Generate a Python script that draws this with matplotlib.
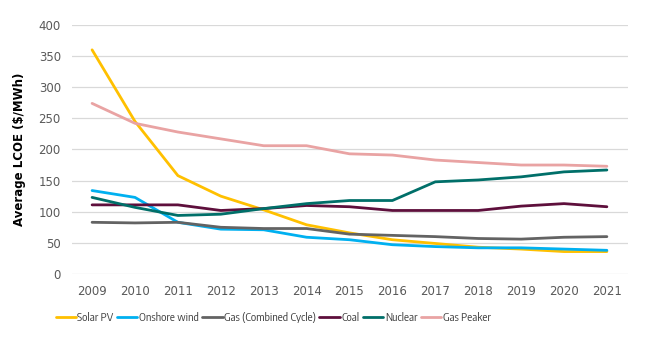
import matplotlib
matplotlib.use("Agg")
import matplotlib.pyplot as plt
from matplotlib import font_manager as fm

years = list(range(2009, 2022))
solar_pv = [360, 245, 158, 125, 103, 79, 66, 55, 49, 43, 40, 36, 36]
onshore_wind = [134, 123, 83, 72, 71, 59, 55, 47, 44, 42, 42, 40, 38]
gas_cc = [83, 82, 83, 75, 73, 73, 64, 62, 60, 57, 56, 59, 60]
coal = [111, 111, 111, 102, 105, 110, 108, 102, 102, 102, 109, 113, 108]
nuclear = [123, 107, 94, 96, 105, 113, 118, 118, 148, 151, 156, 164, 167]
gas_peaker = [274, 242, 228, 217, 206, 206, 193, 191, 183, 179, 175, 175, 173]

series = [
    ("Solar PV", solar_pv, "#FFC000"),
    ("Onshore wind", onshore_wind, "#00B0F0"),
    ("Gas (Combined Cycle)", gas_cc, "#636363"),
    ("Coal", coal, "#5E0F3C"),
    ("Nuclear", nuclear, "#006F69"),
    ("Gas Peaker", gas_peaker, "#E9A3A3"),
]

# pick a narrow regular font file if available
cands = []
for f in fm.findSystemFonts():
    low = f.lower().replace("\\", "/").split("/")[-1]
    if ("narrow" in low or "condensed" in low) and not any(k in low for k in ("bold", "italic", "oblique", "mono", "light", "black", "thin", "semi", "extra", "medium")):
        cands.append(f)
cands.sort(key=lambda p: (0 if "liberationsansnarrow-regular" in p.lower() else 1 if "liberation" in p.lower() else 2))
if cands:
    leg_prop = fm.FontProperties(fname=cands[0], size=8.1)
else:
    leg_prop = fm.FontProperties(family="DejaVu Sans", size=7.2)

fig = plt.figure(figsize=(6.48, 3.37), dpi=100)
ax = fig.add_axes([0.111, 0.187, 0.858, 0.739])

for name, vals, col in series:
    ax.plot(years, vals, color=col, lw=2.0, label=name, solid_capstyle="round")

ax.set_xlim(2008.53, 2021.49)
ax.set_ylim(0, 400)
ax.set_yticks(range(0, 401, 50))
ax.set_xticks(years)
ax.grid(axis="y", color="#D9D9D9", lw=0.9)
ax.set_axisbelow(True)
for s in ax.spines.values():
    s.set_visible(False)
ax.tick_params(axis="both", length=0, labelsize=8.5, labelcolor="#595959")
ax.tick_params(axis="x", pad=8)
ax.tick_params(axis="y", pad=8)
ax.set_ylabel("Average LCOE ($/MWh)", fontsize=8.5, fontweight="bold", labelpad=9)

leg = ax.legend(loc="upper center", bbox_to_anchor=(0.23, -0.112), ncol=6, frameon=False,
                prop=leg_prop, handlelength=1.8, handletextpad=0.15, columnspacing=0.3)
for t in leg.get_texts():
    t.set_color("#404040")
fig.canvas.draw()
ax_bb = ax.get_window_extent()
cx = (273 - ax_bb.x0) / ax_bb.width
leg.set_bbox_to_anchor((cx, -0.112), transform=ax.transAxes)

fig.savefig("out.png", dpi=100)
